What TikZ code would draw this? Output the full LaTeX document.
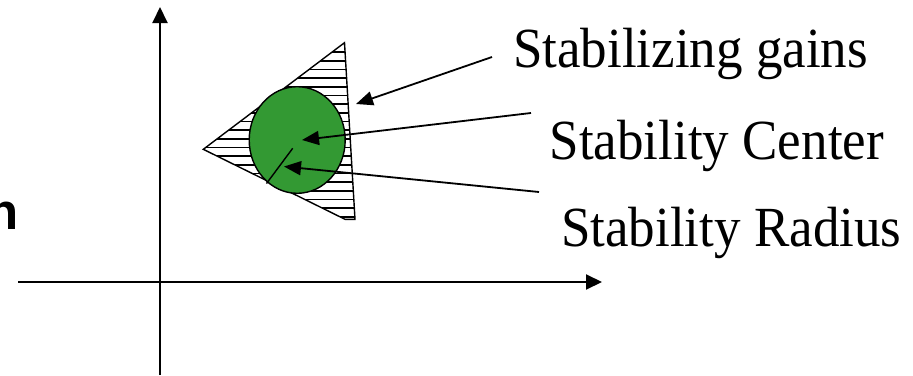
\documentclass[tikz,border=0pt]{standalone}
\usepackage{fontspec}
\setmainfont{Liberation Serif}
\newfontfamily\labsans{Liberation Sans}
\usetikzlibrary{arrows.meta,shapes.geometric}
\definecolor{discgreen}{HTML}{339933}
\newcommand{\tallish}[1]{\scalebox{1}[1.07]{#1}}
\tikzset{
  axis/.style={line width=2pt,-{Triangle[length=16pt,width=15pt]}},
  pointer/.style={line width=1.8pt,-{Triangle[length=17pt,width=14pt]}},
  label/.style={inner sep=0pt,anchor=base west,font=\fontsize{53}{60}\selectfont},
  hatchline/.style={line width=1.6pt},
}
\begin{document}
\begin{tikzpicture}[x=1pt,y=-1pt]
\useasboundingbox (0,0) rectangle (913,375);
\fill[white] (0,0) rectangle (913,375);
% axes
\coordinate (xs) at (18,282);
\coordinate (xe) at (602,282);
\coordinate (ys) at (160,375);
\coordinate (ye) at (160,7);
\draw[axis] (xs) -- (xe);
\draw[axis] (ys) -- (ye);
% triangle
\coordinate (tl) at (203.3,149.3);
\coordinate (tt) at (344.5,42.7);
\coordinate (tb) at (345,219.3);
\coordinate (tr) at (355,219.3);
\begin{scope}
\clip (tl) -- (tt) -- (tr) -- (tb) -- cycle;
\foreach \yy in {52,60.7,69.3,78,86.7,95.3,104,112.7,121.3,130,138.7,147.3,156,164.7,173.3,182,190.7,199.3,208,216.7}
  \draw[hatchline] (190,\yy) -- (370,\yy);
\end{scope}
\draw[line width=1.4pt,line join=miter] (tl) -- (tt) -- (tr) -- (tb) -- cycle;
% disc
\node[draw=black,line width=1.4pt,fill=discgreen,ellipse,minimum width=96pt,minimum height=106.6pt,inner sep=0pt] (disc) at (297.2,140) {};
\coordinate (r1) at (292.7,148.3);
\coordinate (r2) at (266.5,183.5);
\draw[line width=1.4pt] (r1) -- (r2);
% labels
\node[label] (gains) at (513,67.3) {\tallish{Stabilizing gains}};
\node[label] (center) at (549.5,159.3) {\tallish{Stability Center}};
\node[label] (radius) at (561,246.7) {\tallish{Stability Radius}};
\node[inner sep=0pt,anchor=base east,font=\labsans\bfseries\fontsize{51}{56}\selectfont] (cut) at (18.5,229.3) {n};
% pointers
\coordinate (g0) at (492,57);
\coordinate (g1) at (356,104);
\coordinate (c0) at (531,113);
\coordinate (c1) at (302,140);
\coordinate (q0) at (539,192);
\coordinate (q1) at (284,166.5);
\draw[pointer] (g0) -- (g1);
\draw[pointer] (c0) -- (c1);
\draw[pointer] (q0) -- (q1);
\end{tikzpicture}
\end{document}
